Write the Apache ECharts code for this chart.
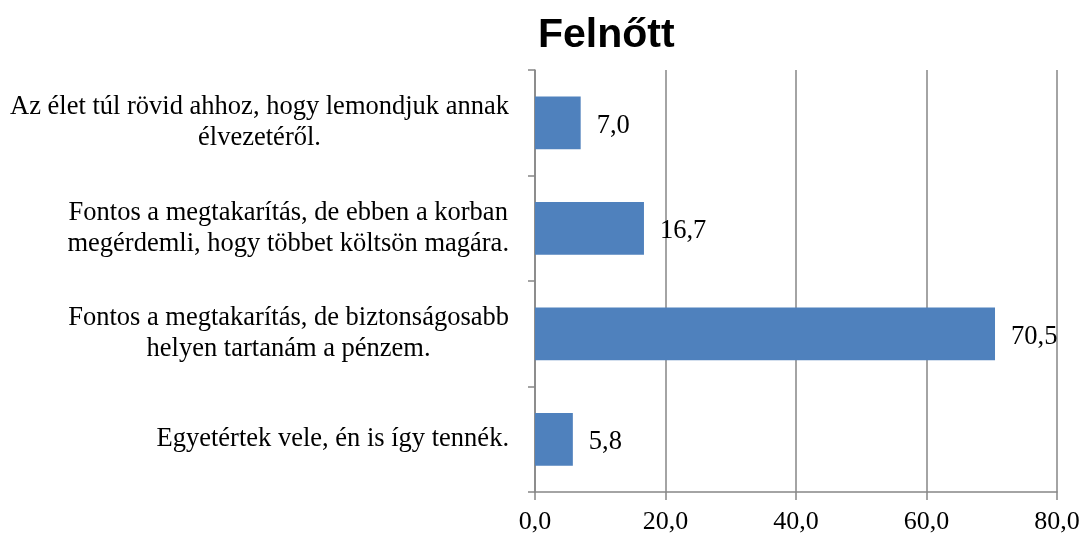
<!DOCTYPE html>
<html>
  <head>
    <meta charset="utf-8" />
    <title>Felnőtt</title>
    <script src="https://cdn.jsdelivr.net/npm/echarts@6/dist/echarts.min.js"></script>
    <style type="text/css">
      body { margin: 0; background: #fff; }
    </style>
  </head>
  <body>
    <div id="main" style="width: 1083px; height: 535px"></div>
    <script type="text/javascript">
      // adatok (felülről lefelé)
      var categories = [
        "Az élet túl rövid ahhoz, hogy lemondjuk annak\nélvezetéről.",
        "Fontos a megtakarítás, de ebben a korban\nmegérdemli, hogy többet költsön magára.",
        "Fontos a megtakarítás, de biztonságosabb\nhelyen tartanám a pénzem.",
        "Egyetértek vele, én is így tennék."
      ];
      var values = [7.0, 16.7, 70.5, 5.8];
      var axisMin = 0, axisMax = 80, axisStep = 20;

      var serif = "'Liberation Serif', 'DejaVu Serif', serif";
      var grey = "#868686";

      function fmt(v) {
        return Number(v).toFixed(1).replace(".", ",");
      }

      var myChart = echarts.init(document.getElementById("main"));

      var option = {
        animation: false,
        title: {
          text: "Felnőtt",
          left: 533,
          top: 10,
          textStyle: {
            fontFamily: "'Liberation Sans', Arial, sans-serif",
            fontWeight: "bold",
            fontSize: 41,
            color: "#000"
          }
        },
        grid: { left: 535, right: 26, top: 70, bottom: 43 },
        xAxis: {
          type: "value",
          min: axisMin,
          max: axisMax,
          interval: axisStep,
          axisLine: { show: true, lineStyle: { color: grey, width: 1.5 } },
          axisTick: { show: true, length: 8, lineStyle: { color: grey, width: 1.5 } },
          splitLine: { show: true, lineStyle: { color: grey, width: 1.5 } },
          axisLabel: {
            formatter: fmt,
            fontFamily: serif,
            fontSize: 26,
            color: "#000",
            margin: 17
          }
        },
        yAxis: {
          type: "category",
          inverse: true,
          data: categories,
          axisLine: { show: true, lineStyle: { color: grey, width: 1.5 } },
          axisTick: { show: true, length: 7, lineStyle: { color: grey, width: 1.5 } },
          axisLabel: {
            color: "#000",
            align: "right",
            margin: 26,
            // minden sor középre igazítva a blokkon belül
            formatter: function (v) {
              return v.split("\n").map(function (s) { return "{c|" + s + "}"; }).join("\n");
            },
            rich: {
              c: {
                align: "center",
                fontFamily: serif,
                fontSize: 26.5,
                lineHeight: 31,
                color: "#000"
              }
            }
          }
        },
        series: [
          {
            type: "bar",
            data: values,
            barCategoryGap: "50%",
            itemStyle: { color: "#4F81BD" },
            label: {
              show: true,
              position: "right",
              distance: 16,
              offset: [0, 3],
              formatter: function (p) { return fmt(p.value); },
              fontFamily: serif,
              fontSize: 26.5,
              color: "#000"
            }
          }
        ]
      };

      myChart.setOption(option);
    </script>
  </body>
</html>
